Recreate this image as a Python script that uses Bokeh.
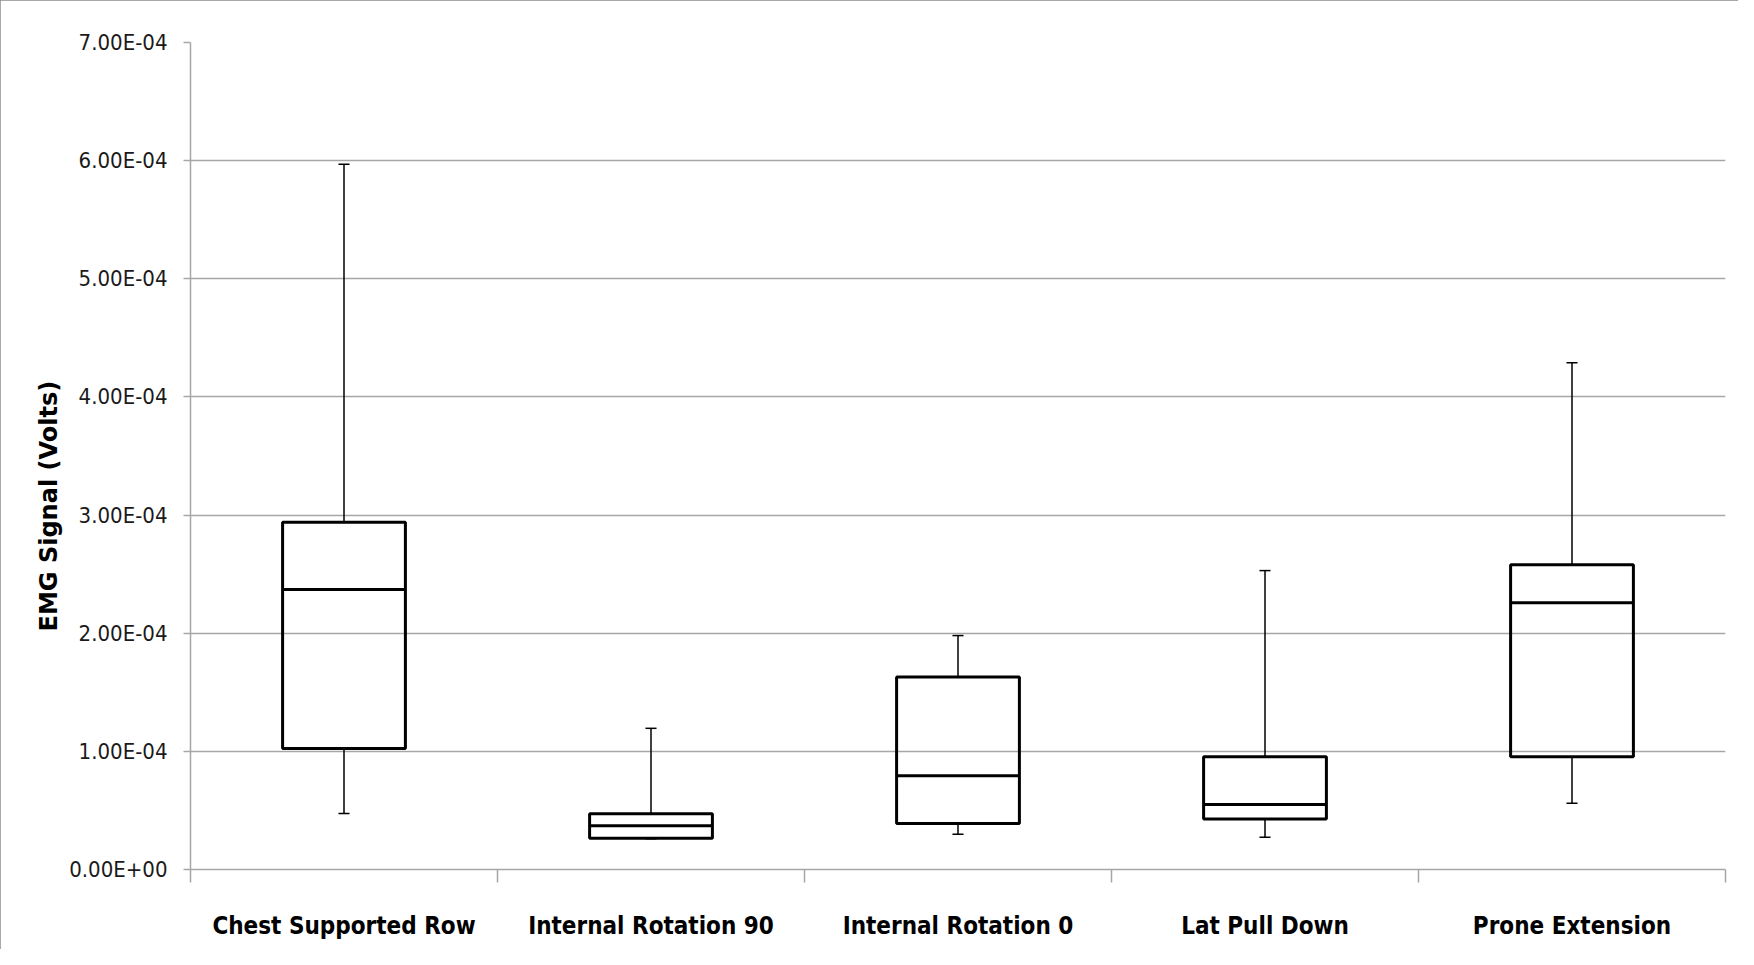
from bokeh.plotting import figure
from bokeh.models import FixedTicker, Range1d
from bokeh.embed import file_html
from bokeh.resources import INLINE

# ---- data ----
categories = ["Chest Supported Row", "Internal Rotation 90", "Internal Rotation 0",
              "Lat Pull Down", "Prone Extension"]
whisker_low = [0.475e-4, 0.26e-4, 0.298e-4, 0.272e-4, 0.56e-4]
q1 = [1.025e-4, 0.264e-4, 0.39e-4, 0.427e-4, 0.954e-4]
median = [2.37e-4, 0.37e-4, 0.794e-4, 0.55e-4, 2.257e-4]
q3 = [2.94e-4, 0.472e-4, 1.63e-4, 0.954e-4, 2.58e-4]
whisker_high = [5.97e-4, 1.195e-4, 1.98e-4, 2.53e-4, 4.29e-4]

y_ticks = [0.0, 1e-4, 2e-4, 3e-4, 4e-4, 5e-4, 6e-4, 7e-4]
y_tick_labels = ["0.00E+00", "1.00E-04", "2.00E-04", "3.00E-04",
                 "4.00E-04", "5.00E-04", "6.00E-04", "7.00E-04"]
y_title = "EMG Signal (Volts)"

# ---- figure ----
n = len(categories)
p = figure(width=1738, height=949, output_backend="svg", toolbar_location=None,
           x_range=Range1d(0, n), y_range=Range1d(0, 7e-4),
           min_border_left=190, min_border_right=13, min_border_top=42,
           min_border_bottom=80)
p.outline_line_color = None
p.background_fill_color = "white"
p.border_fill_color = "white"
p.styles = {"outline": "3px solid #8c8c8c", "outline-offset": "-3px"}

centers = [i + 0.5 for i in range(n)]
box_w = 0.40
cap_w = 0.036

# Boxes
p.quad(left=[c - box_w / 2 for c in centers], right=[c + box_w / 2 for c in centers],
       bottom=q1, top=q3, fill_alpha=0, line_color="black", line_width=3)
# Medians
p.segment(x0=[c - box_w / 2 for c in centers], x1=[c + box_w / 2 for c in centers],
          y0=median, y1=median, line_color="black", line_width=3)
# Whiskers
p.segment(x0=centers, x1=centers, y0=q3, y1=whisker_high, line_color="black", line_width=1.5)
p.segment(x0=centers, x1=centers, y0=whisker_low, y1=q1, line_color="black", line_width=1.5)
# Caps
p.segment(x0=[c - cap_w / 2 for c in centers], x1=[c + cap_w / 2 for c in centers],
          y0=whisker_high, y1=whisker_high, line_color="black", line_width=1.5)
p.segment(x0=[c - cap_w / 2 for c in centers], x1=[c + cap_w / 2 for c in centers],
          y0=whisker_low, y1=whisker_low, line_color="black", line_width=1.5)

grid_col = "#a6a6a6"
label_font = "DejaVu Sans Condensed"

# X axis
p.xaxis.ticker = FixedTicker(ticks=centers, minor_ticks=list(range(n + 1)))
p.xaxis.major_label_overrides = {c: cat for c, cat in zip(centers, categories)}
p.xaxis.major_tick_out = 0
p.xaxis.major_tick_in = 0
p.xaxis.minor_tick_out = 13
p.xaxis.minor_tick_in = 0
p.xaxis.minor_tick_line_color = grid_col
p.xaxis.minor_tick_line_width = 1.5
p.xaxis.axis_line_color = grid_col
p.xaxis.axis_line_width = 1.5
p.xaxis.major_label_text_font = label_font
p.xaxis.major_label_text_font_size = "24px"
p.xaxis.major_label_text_font_style = "bold"
p.xaxis.major_label_text_color = "black"
p.xaxis.major_label_standoff = 29
p.xgrid.grid_line_color = None

# Y axis
p.yaxis.ticker = FixedTicker(ticks=y_ticks, minor_ticks=[])
p.yaxis.major_label_overrides = {t: l for t, l in zip(y_ticks, y_tick_labels)}
p.yaxis.major_tick_out = 7
p.yaxis.major_tick_in = 0
p.yaxis.major_tick_line_color = grid_col
p.yaxis.major_tick_line_width = 1.5
p.yaxis.minor_tick_line_color = None
p.yaxis.axis_line_color = grid_col
p.yaxis.axis_line_width = 1.5
p.yaxis.major_label_text_font = label_font
p.yaxis.major_label_text_font_size = "22px"
p.yaxis.major_label_text_color = "#1a1a1a"
p.yaxis.major_label_standoff = 16
# trailing no-break spaces shift the rotated title slightly below the frame centre,
# as in the original chart
p.yaxis.axis_label = y_title + "\u00a0" * 12
p.yaxis.axis_label_text_font = "DejaVu Sans"
p.yaxis.axis_label_text_font_style = "bold"
p.yaxis.axis_label_text_font_size = "24px"
p.yaxis.axis_label_text_color = "black"
p.yaxis.axis_label_standoff = 3
p.ygrid.grid_line_color = grid_col
p.ygrid.grid_line_width = 1.5

open("out.html", "w").write(file_html(p, INLINE))
